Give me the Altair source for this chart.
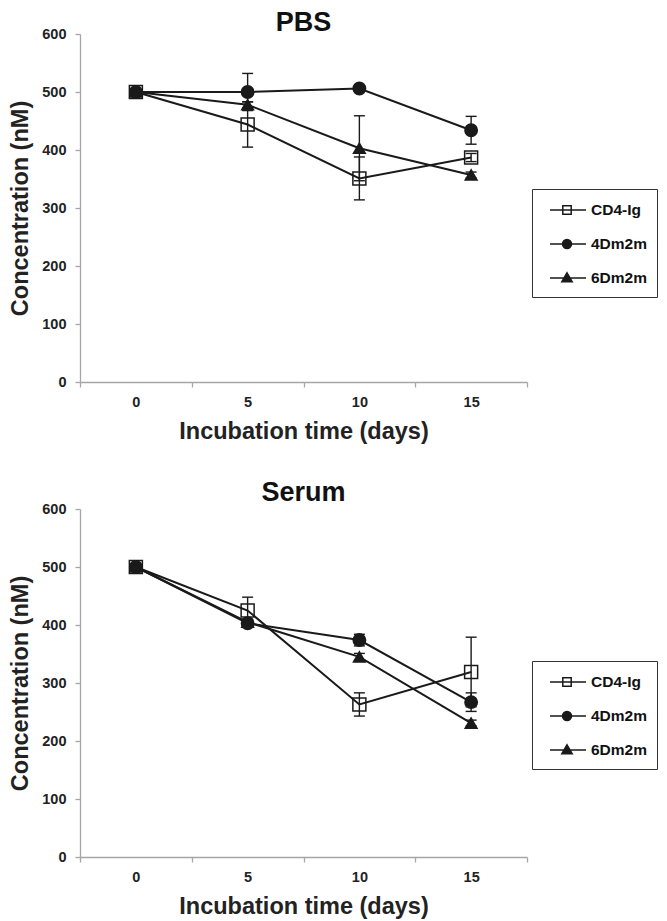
import altair as alt
import pandas as pd

# ---------------- data ----------------
days = ["0", "5", "10", "15"]
series = ["CD4-Ig", "4Dm2m", "6Dm2m"]

# PBS panel (nM) and error (+/-)
pbs_cd4 = [500, 444, 351, 387]
pbs_cd4_err = [3, 39, 37, 7]
pbs_4d = [500, 500, 506, 434]
pbs_4d_err = [3, 32, 4, 24]
pbs_6d = [500, 478, 403, 357]
pbs_6d_err = [3, 5, 56, 5]

# Serum panel (nM) and error (+/-)
serum_cd4 = [500, 425, 263, 319]
serum_cd4_err = [4, 23, 20, 60]
serum_4d = [500, 403, 374, 267]
serum_4d_err = [3, 5, 10, 16]
serum_6d = [500, 405, 345, 231]
serum_6d_err = [3, 5, 6, 5]

y_ticks = [0, 100, 200, 300, 400, 500, 600]

FONT = "Liberation Sans"
INK = "#1a1a1a"
AXIS_GREY = "#a6a6a6"


def make_df(vals, errs):
    rows = []
    for s, v, e in zip(series, vals, errs):
        for d, vv, ee in zip(days, v, e):
            rows.append({"day": d, "series": s, "value": vv,
                         "lo": vv - ee, "hi": vv + ee})
    return pd.DataFrame(rows)


# legend symbols: a line with the marker on it (custom SVG paths)
legend_paths = [
    "M-0.3,0L3.3,0M0.98,-0.42L1.82,-0.42L1.82,0.42L0.98,0.42Z",
    "M-0.3,0L3.3,0M1.85,0A0.45,0.45,0,1,1,0.95,0A0.45,0.45,0,1,1,1.85,0Z",
    "M-0.3,0L3.3,0M1.4,-0.52L1.92,0.38L0.88,0.38Z",
]


def panel(df, title, legend_y, title_offset):
    x = alt.X(
        "day:O",
        sort=days,
        bandPosition=0.5,
        scale=alt.Scale(type="band", domain=days, paddingInner=0, paddingOuter=0),
        axis=alt.Axis(title="Incubation time (days)", labelAngle=0,
                      tickBand="extent", tickSize=5, labelPadding=8,
                      titlePadding=11),
    )
    y = alt.Y(
        "value:Q",
        scale=alt.Scale(domain=[0, 600]),
        axis=alt.Axis(title="Concentration (nM)", values=y_ticks, grid=False,
                      tickSize=5, labelPadding=9, titlePadding=9),
    )
    base = alt.Chart(df)
    lines = base.mark_line(color=INK, strokeWidth=2).encode(
        x=x, y=y, detail="series:N")
    rules = base.mark_rule(color=INK, strokeWidth=1.4).encode(
        x=x, y=alt.Y("lo:Q"), y2="hi:Q")
    cap_lo = base.mark_tick(color=INK, size=11, thickness=1.4,
                            orient="horizontal", opacity=1).encode(x=x, y="lo:Q")
    cap_hi = base.mark_tick(color=INK, size=11, thickness=1.4,
                            orient="horizontal", opacity=1).encode(x=x, y="hi:Q")
    points = base.mark_point(filled=True, stroke=INK, strokeWidth=1.5,
                             opacity=1).encode(
        x=x, y=y,
        shape=alt.Shape("series:N", legend=None,
                        scale=alt.Scale(domain=series,
                                        range=["square", "circle", "triangle-up"])),
        fill=alt.Fill("series:N", legend=None,
                      scale=alt.Scale(domain=series,
                                      range=["transparent", INK, INK])),
        size=alt.Size("series:N", legend=None,
                      scale=alt.Scale(domain=series, range=[169, 139, 182])),
    )
    leg = alt.Legend(
        title=None, orient="none", legendX=452, legendY=legend_y,
        direction="vertical", padding=10, rowPadding=14,
        strokeColor="#333333", symbolSize=400,
        symbolStrokeWidth=1.5, symbolOpacity=1, labelFont=FONT,
        labelFontSize=15.5, labelFontWeight="bold", labelColor="#111111",
        labelOffset=27, labelLimit=200,
    )
    legend_layer = base.mark_point(filled=True, opacity=0, stroke=INK,
                                   strokeWidth=1.5).encode(
        x=x, y=y,
        shape=alt.Shape("series:N", legend=leg,
                        scale=alt.Scale(domain=series, range=legend_paths)),
        fill=alt.Fill("series:N", legend=leg,
                      scale=alt.Scale(domain=series,
                                      range=["transparent", INK, INK])),
    )
    return alt.layer(lines, rules, cap_lo, cap_hi, points, legend_layer).resolve_scale(
        shape="independent", fill="independent", size="independent"
    ).properties(
        width=447, height=348,
        title=alt.TitleParams(title, font=FONT, fontSize=27, fontWeight="bold",
                              color="#111111", anchor="middle", frame="group",
                              offset=title_offset),
    )


top = panel(make_df([pbs_cd4, pbs_4d, pbs_6d],
                    [pbs_cd4_err, pbs_4d_err, pbs_6d_err]), "PBS", 155, -11)
bottom = panel(make_df([serum_cd4, serum_4d, serum_6d],
                       [serum_cd4_err, serum_4d_err, serum_6d_err]), "Serum", 152, -6)

chart = alt.vconcat(top, bottom, spacing=34).resolve_scale(
    shape="independent", fill="independent", size="independent"
).properties(
    padding={"left": 0, "top": 0, "right": 0, "bottom": 0}
).configure_view(stroke="transparent").configure_axis(
    domainColor=AXIS_GREY, tickColor=AXIS_GREY, domainWidth=1.3, tickWidth=1.3,
    labelFont=FONT, labelFontSize=14.5, labelFontWeight="bold", labelColor="#222222",
    titleFont=FONT, titleFontSize=23.5, titleFontWeight="bold", titleColor="#222222",
)

chart.save("out.html", embed_options={"renderer": "svg", "actions": False})
